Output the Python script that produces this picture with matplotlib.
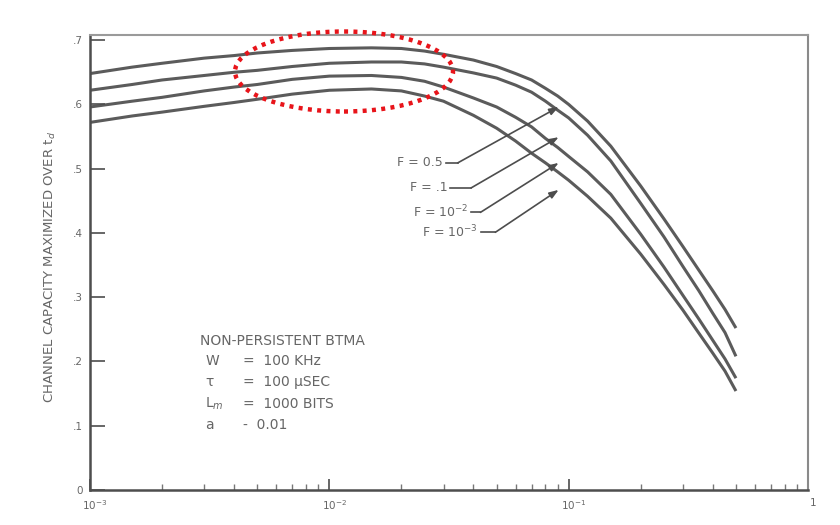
import numpy as np
import matplotlib
matplotlib.use("Agg")
import matplotlib.pyplot as plt
from matplotlib.patches import Ellipse
from matplotlib.ticker import LogLocator, FixedLocator, NullFormatter
import matplotlib.transforms as mtrans

# ---- data ----
x_vals = [0.001, 0.0015, 0.002, 0.003, 0.004, 0.005, 0.007, 0.01, 0.015, 0.02, 0.025,
          0.03, 0.04, 0.05, 0.06, 0.07, 0.08, 0.09, 0.1, 0.12, 0.15, 0.2, 0.25, 0.3,
          0.35, 0.4, 0.45, 0.5]
cap_f05 = [0.648, 0.658, 0.664, 0.672, 0.676, 0.680, 0.684, 0.687, 0.688, 0.687, 0.683,
           0.678, 0.669, 0.659, 0.648, 0.638, 0.625, 0.613, 0.600, 0.574, 0.535, 0.473,
           0.422, 0.379, 0.342, 0.310, 0.281, 0.252]
cap_f01 = [0.622, 0.631, 0.638, 0.645, 0.650, 0.653, 0.659, 0.664, 0.666, 0.666, 0.663,
           0.658, 0.649, 0.641, 0.630, 0.619, 0.605, 0.591, 0.579, 0.552, 0.512, 0.446,
           0.394, 0.348, 0.310, 0.275, 0.245, 0.208]
cap_f1e2 = [0.596, 0.605, 0.611, 0.621, 0.627, 0.631, 0.639, 0.644, 0.645, 0.642, 0.636,
            0.627, 0.610, 0.596, 0.580, 0.565, 0.547, 0.533, 0.519, 0.495, 0.460, 0.398,
            0.347, 0.303, 0.266, 0.233, 0.204, 0.174]
cap_f1e3 = [0.572, 0.582, 0.588, 0.597, 0.603, 0.608, 0.616, 0.622, 0.624, 0.621, 0.613,
            0.605, 0.583, 0.563, 0.543, 0.524, 0.509, 0.495, 0.482, 0.457, 0.423, 0.367,
            0.320, 0.280, 0.244, 0.213, 0.185, 0.154]
series = [cap_f05, cap_f01, cap_f1e2, cap_f1e3]
curve_labels = ["F = 0.5", "F = .1", "F = 10$^{-2}$", "F = 10$^{-3}$"]
arrow_tip_y = [0.596, 0.549, 0.509, 0.467]
y_ticks = [0, 0.1, 0.2, 0.3, 0.4, 0.5, 0.6, 0.7]
y_ticklabels = ["0", ".1", ".2", ".3", ".4", ".5", ".6", ".7"]
x_ticks = [0.001, 0.01, 0.1, 1]
x_ticklabels = ["10$^{-3}$", "10$^{-2}$", "10$^{-1}$", "1"]
param_title = "NON-PERSISTENT BTMA"
param_syms = ["W", "\u03c4", "L$_m$", "a"]
param_vals = ["=  100 KHz", "=  100 \u03bcSEC", "=  1000 BITS", "-  0.01"]

ink = "#4d4d4d"
txt = "#666666"

fig = plt.figure(figsize=(8.4, 5.25), dpi=100)
ax = fig.add_axes([90/840, 1-490/525, (808-90)/840, (490-35)/525])

for ys in series:
    ax.plot(x_vals, ys, color=ink, lw=2.2, solid_capstyle="butt", alpha=0.92)

ax.set_xscale("log")
ax.set_xlim(1e-3, 1)
ax.set_ylim(0, 0.708)

ax.xaxis.set_major_locator(FixedLocator(x_ticks))
ax.set_xticklabels(x_ticklabels)
ax.xaxis.set_minor_locator(LogLocator(base=10, subs=np.arange(2, 10)))
ax.xaxis.set_minor_formatter(NullFormatter())
ax.set_yticks(y_ticks)
ax.set_yticklabels(y_ticklabels)

ax.tick_params(axis="both", which="major", direction="in", width=1.2,
               color=ink, labelcolor=txt, labelsize=7.5)
ax.tick_params(axis="x", which="major", length=8, pad=6)
ax.tick_params(axis="x", which="minor", direction="in", length=4.5, width=1.0, color="#777")
ax.tick_params(axis="y", which="major", pad=5, length=11)

shift = mtrans.ScaledTranslation(5/100, 0, fig.dpi_scale_trans)
for lab in ax.get_xticklabels():
    lab.set_transform(lab.get_transform() + shift)

for s in ["left", "bottom"]:
    ax.spines[s].set_color(ink)
    ax.spines[s].set_linewidth(1.8)
ax.spines["top"].set_color("#9a9a9a")
ax.spines["top"].set_linewidth(1.5)
ax.spines["right"].set_color("#8a8a8a")
ax.spines["right"].set_linewidth(1.5)

ax.set_ylabel("CHANNEL CAPACITY MAXIMIZED OVER t$_d$", color=txt, fontsize=9.5)
ax.yaxis.set_label_coords(-0.045, 0.49)

# curve labels with leader arrows
label_right_x = [0.0297, 0.0311, 0.0381, 0.0416]
label_y = [0.509, 0.470, 0.432, 0.401]
knee_x = [0.0344, 0.0391, 0.0428, 0.0494]
tip_x = 0.0908
for lab, lx, ly, kx, ty in zip(curve_labels, label_right_x, label_y, knee_x, arrow_tip_y):
    ax.text(lx, ly, lab, ha="right", va="center", fontsize=9, color=txt)
    ax.plot([lx * 1.03, kx], [ly, ly], color=ink, lw=1.2)
    ax.annotate("", xy=(tip_x, ty), xytext=(kx, ly),
                arrowprops=dict(arrowstyle="-|>,head_length=0.55,head_width=0.2",
                                color=ink, lw=1.2, shrinkA=0, shrinkB=0))

# parameter block
ax.text(0.00289, 0.232, param_title, fontsize=10, color=txt, va="center")
for i, (sym, val) in enumerate(zip(param_syms, param_vals)):
    yy = 0.201 - i * 0.0333
    ax.text(0.00303, yy, sym, fontsize=10, color=txt, va="center")
    ax.text(0.00437, yy, val, fontsize=10, color=txt, va="center")

# red dotted highlight ellipse
ell = Ellipse((344/840, 1-71.5/525), 218/840, 80/525, transform=fig.transFigure,
              fill=False, edgecolor="#e8141a", lw=3.2, linestyle=(0, (0.9, 1.2)))
fig.add_artist(ell)

fig.savefig("out.png", dpi=100, facecolor="white")
